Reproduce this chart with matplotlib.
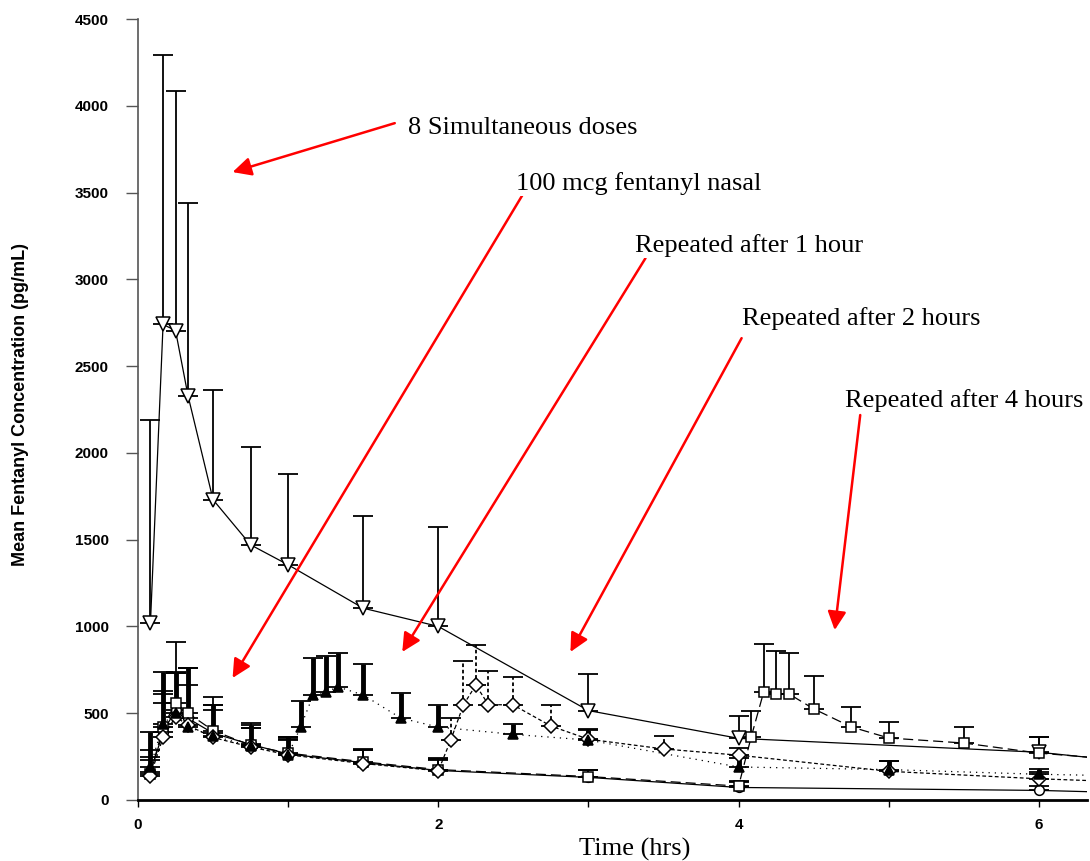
import numpy as np
import matplotlib
matplotlib.use('Agg')
import matplotlib.pyplot as plt

# 8 simultaneous doses
t_sim = [0.083, 0.167, 0.25, 0.333, 0.5, 0.75, 1, 1.5, 2, 3, 4, 6, 8]
m_sim = [1020, 2740, 2705, 2330, 1730, 1470, 1355, 1105, 1000, 515, 355, 275, 95]
sd_sim = [1170, 1550, 1380, 1110, 630, 565, 525, 530, 570, 210, 130, 90, 40]

# 100 mcg fentanyl nasal, single dose
t_one = [0.083, 0.167, 0.25, 0.333, 0.5, 0.75, 1, 1.5, 2, 3, 4, 6, 8]
m_one = [160, 390, 520, 470, 385, 320, 265, 215, 170, 130, 72, 55, 10]
sd_one = [130, 240, 390, 290, 210, 125, 95, 80, 70, 40, 30, 25, 10]

# repeated after 1 hour
t_r1 = [0.083, 0.167, 0.25, 0.333, 0.5, 0.75, 1, 1.083, 1.167, 1.25, 1.333, 1.5, 1.75, 2, 2.5, 3, 4, 5, 6, 8]
m_r1 = [190, 440, 500, 420, 370, 310, 260, 420, 605, 622, 651, 605, 472, 420, 378, 345, 190, 175, 148, 115]
sd_r1 = [200, 300, 240, 340, 180, 120, 100, 150, 213, 208, 196, 178, 144, 127, 60, 60, 50, 50, 30, 30]

# repeated after 2 hours
t_r2 = [0.083, 0.167, 0.25, 0.333, 0.5, 0.75, 1, 1.5, 2, 2.083, 2.167, 2.25, 2.333, 2.5, 2.75, 3, 3.5, 4, 5, 6, 8]
m_r2 = [140, 360, 480, 430, 360, 305, 260, 210, 168, 345, 547, 662, 550, 547, 426, 350, 294, 258, 165, 122, 60]
sd_r2 = [90, 200, 250, 230, 160, 110, 85, 75, 65, 130, 253, 231, 193, 162, 121, 60, 75, 40, 60, 40, 20]

# repeated after 4 hours
t_r4 = [0.083, 0.167, 0.25, 0.333, 0.5, 0.75, 1, 1.5, 2, 3, 4, 4.083, 4.167, 4.25, 4.333, 4.5, 4.75, 5, 5.5, 6, 8]
m_r4 = [150, 420, 560, 500, 400, 315, 270, 220, 175, 135, 80, 360, 622, 612, 612, 525, 421, 357, 328, 270, 130]
sd_r4 = [100, 190, 170, 260, 150, 100, 80, 70, 60, 40, 30, 155, 275, 245, 235, 190, 115, 90, 95, 90, 40]

labels = ['8 Simultaneous doses', '100 mcg fentanyl nasal', 'Repeated after 1 hour',
          'Repeated after 2 hours', 'Repeated after 4 hours']

fig = plt.figure(figsize=(10.9, 8.61), dpi=100)
ax = fig.add_axes([0.1266, 0.0709, 0.8706, 0.907])


def draw(t, m, sd, marker, ls, mfc='white', elw=1.3, els='-', ms=8, ecolor='black'):
    t = np.array(t)
    m = np.array(m)
    sd = np.array(sd)
    ax.plot(t, m, color='black', lw=0.9, ls=ls, zorder=2)
    eb = ax.errorbar(t, m, yerr=[np.zeros_like(sd), sd], fmt='none', ecolor=ecolor,
                     elinewidth=elw, capsize=7, capthick=1.3, zorder=3)
    eb[2][0].set_linestyle(els)
    ax.plot(t, m, ls='none', marker=marker, ms=ms, mfc=mfc, mec='black', mew=1.1, zorder=4)


draw(t_sim, m_sim, sd_sim, 'v', '-', ms=10)
draw(t_one, m_one, sd_one, 'o', '-', ms=7)
draw(t_r4, m_r4, sd_r4, 's', (0, (8, 4)), ms=7)
draw(t_r2, m_r2, sd_r2, 'D', (0, (3, 2)), els=(0, (2, 1.5)), ms=7)
draw(t_r1, m_r1, sd_r1, '^', (0, (1, 4)), mfc='black', elw=3.5, ms=7)

ax.set_xlim(0, 6.32)
ax.set_ylim(0, 4500)
ax.set_xticks(range(7))
ax.set_xticklabels(['0', '', '2', '', '4', '', '6'])
ax.set_yticks(range(0, 4501, 500))

tick_font = ['Liberation Sans Narrow', 'Liberation Sans', 'DejaVu Sans']
for lab in ax.get_xticklabels() + ax.get_yticklabels():
    lab.set_family(tick_font)
    lab.set_fontweight('bold')
    lab.set_fontsize(11)
ax.tick_params(axis='y', direction='out', length=9, width=1, color='#555555', pad=12)
ax.tick_params(axis='x', direction='out', length=5, width=1, pad=8)

for s in ['top', 'right']:
    ax.spines[s].set_visible(False)
ax.spines['left'].set_color('#555555')
ax.spines['left'].set_linewidth(1.2)
ax.spines['bottom'].set_linewidth(2)

ax.set_ylabel('Mean Fentanyl Concentration (pg/mL)', family=tick_font,
              fontweight='bold', fontsize=13)
ax.yaxis.set_label_coords(-0.115, 0.506)
ax.set_xlabel('Time (hrs)', family='Liberation Serif', fontsize=19, va='center')
ax.xaxis.set_label_coords(0.523, -0.063)

# annotation text positions and arrows (data coordinates)
txt_pos = [(1.80, 3871), (2.52, 3554), (3.31, 3197), (4.02, 2776), (4.71, 2304)]
arrow_tail = [(1.71, 3900), (2.56, 3485), (3.38, 3122), (4.02, 2661), (4.81, 2218)]
arrow_head = [(0.63, 3618), (0.63, 703), (1.76, 853), (2.88, 853), (4.64, 979)]

for lab, tp, at, ah in zip(labels, txt_pos, arrow_tail, arrow_head):
    ax.annotate('', xy=ah, xytext=at,
                arrowprops=dict(arrowstyle='-|>', color='red', lw=1.8,
                                mutation_scale=28, shrinkA=0, shrinkB=0),
                zorder=6)
    ax.text(tp[0], tp[1], lab, family='Liberation Serif', fontsize=19,
            ha='left', va='center', zorder=7,
            bbox=dict(facecolor='white', edgecolor='none', pad=1))

fig.savefig('out.png', dpi=100)
